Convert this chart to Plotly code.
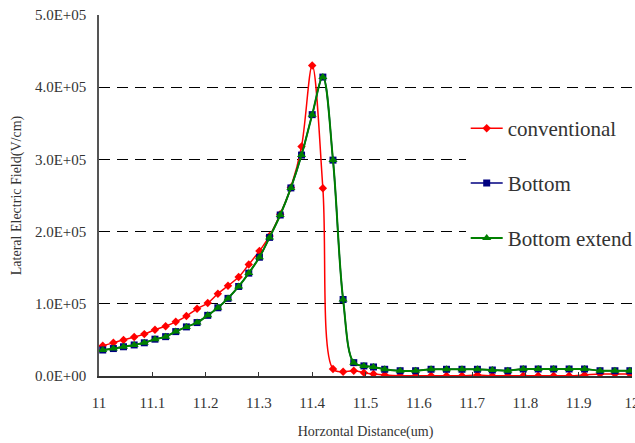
import plotly.graph_objects as go

# Horizontal position (um) of each simulated sample
distance_um = [
    10.988, 11.007, 11.027, 11.046, 11.066, 11.085, 11.105, 11.125, 11.144, 11.164,
    11.184, 11.204, 11.223, 11.242, 11.262, 11.281, 11.301, 11.320, 11.340,
    11.360, 11.380, 11.400, 11.420, 11.439, 11.458, 11.478, 11.497, 11.515,
    11.536, 11.565, 11.594, 11.623, 11.652, 11.681, 11.710, 11.738, 11.767,
    11.796, 11.824, 11.853, 11.882, 11.911, 11.940, 11.968, 11.996,
]

# Lateral electric field (V/cm)
conventional = [
    40000, 42000, 46000, 50000, 54000, 58000, 64000, 69000, 75000, 83000,
    93000, 101000, 114000, 125000, 137000, 154500, 173000, 194000, 224000,
    261000, 318000, 430000, 260000, 9700, 6000, 7300, 4600, 2800,
    1400, 400, 200, 300, 300, 300, 1400, 300, 300,
    300, 300, 300, 300, 1400, 2800, 2800, 2800,
]

bottom = [
    33000, 36000, 38000, 40500, 43000, 46000, 51000, 54500, 61500, 68000,
    74000, 84000, 94500, 107500, 124000, 142500, 164500, 192000, 223000,
    260500, 306000, 362000, 414000, 299000, 106000, 18500, 14000, 12500,
    9300, 7300, 7300, 9300, 9300, 9300, 9300, 8300, 7300,
    9700, 9700, 9700, 9700, 9700, 7300, 7300, 7300,
]

bottom_extend = [
    33000, 36000, 38000, 40500, 43000, 46000, 51000, 54500, 61500, 68000,
    74000, 84000, 94500, 107500, 124000, 142500, 164500, 192000, 223000,
    260500, 306000, 362000, 414000, 299000, 106000, 18500, 14000, 12500,
    9300, 7300, 7300, 9300, 9300, 9300, 9300, 8300, 7300,
    9700, 9700, 9700, 9700, 9700, 7300, 7300, 7300,
]

y_ticks = [0, 100000, 200000, 300000, 400000, 500000]
y_tick_labels = ["0.0E+00", "1.0E+05", "2.0E+05", "3.0E+05", "4.0E+05", "5.0E+05"]
x_ticks = [11, 11.1, 11.2, 11.3, 11.4, 11.5, 11.6, 11.7, 11.8, 11.9, 12]
x_tick_labels = ["11", "11.1", "11.2", "11.3", "11.4", "11.5", "11.6", "11.7", "11.8", "11.9", "12"]

SERIF = "'Times New Roman', 'Liberation Serif', 'DejaVu Serif', serif"
TEXT = "#333333"

fig = go.Figure()

fig.add_trace(go.Scatter(
    x=distance_um, y=conventional, name="conventional", legendgroup="a",
    mode="lines+markers", line=dict(color="#FF0000", width=1.5, shape="spline"),
    marker=dict(symbol="diamond", size=6.5, color="#FF0000"),
))
fig.add_trace(go.Scatter(
    x=distance_um, y=bottom, name="Bottom", legendgroup="b",
    mode="lines+markers", line=dict(color="#000080", width=1.5, shape="spline"),
    marker=dict(symbol="square", size=7, color="#000080"),
))
fig.add_trace(go.Scatter(
    x=distance_um, y=bottom_extend, name="Bottom extend", legendgroup="c",
    mode="lines+markers", line=dict(color="#008000", width=2, shape="spline"),
    marker=dict(symbol="triangle-up", size=8, color="#008000"),
))

fig.update_layout(
    width=635, height=443,
    margin=dict(l=99, r=3, t=15, b=67, autoexpand=False),
    paper_bgcolor="white", plot_bgcolor="white",
    font=dict(family=SERIF, color=TEXT),
    showlegend=True,
    legend=dict(
        x=0.688, y=0.742, xanchor="left", yanchor="top",
        bgcolor="white", borderwidth=0,
        font=dict(family=SERIF, size=21, color=TEXT),
        traceorder="grouped", tracegroupgap=24.5, itemwidth=32,
    ),
    xaxis=dict(
        range=[11, 12], tickvals=x_ticks, ticktext=x_tick_labels,
        tickfont=dict(family=SERIF, size=15, color=TEXT),
        ticks="inside", ticklen=4, tickcolor="#333333",
        ticklabelstandoff=12, ticklabeloverflow="allow",
        showline=True, linecolor="#333333", linewidth=1.5,
        showgrid=False, zeroline=False,
        title=dict(text="Horzontal Distance(um)", standoff=16,
                   font=dict(family=SERIF, size=14, color=TEXT)),
    ),
    yaxis=dict(
        range=[0, 500000], tickvals=y_ticks, ticktext=y_tick_labels,
        tickfont=dict(family=SERIF, size=15, color=TEXT),
        ticks="", ticklabelstandoff=8,
        showline=True, linecolor="#555555", linewidth=1.5,
        showgrid=True, gridcolor="black", gridwidth=1, griddash="11px,7px",
        zeroline=False,
        title=dict(text="Lateral Electric Field(V/cm)", standoff=10,
                   font=dict(family=SERIF, size=14, color=TEXT)),
    ),
)

fig.write_html("out.html")
